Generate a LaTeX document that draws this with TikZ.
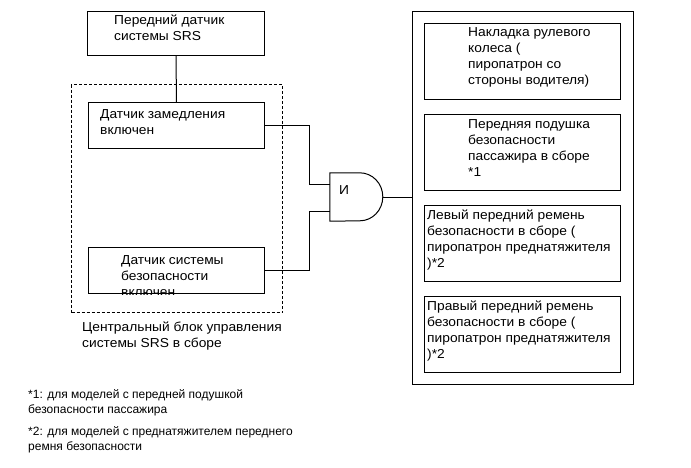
\documentclass[tikz,border=0pt]{standalone}
\usepackage{fontspec}
\setmainfont{Liberation Sans}
\newfontfamily\boxfont[FakeStretch=1.06]{Liberation Sans}
\usetikzlibrary{positioning}

\begin{document}
\begin{tikzpicture}[
    x=1pt, y=-1pt,
    box/.style={rectangle, draw, line width=1pt, anchor=north west, inner sep=0pt},
    card/.style={box, minimum width=196pt, minimum height=76pt},
    ecubox/.style={rectangle, draw, line width=1pt, dash pattern=on 3pt off 2pt, anchor=north west, inner sep=0pt},
    txt/.style={anchor=north west, align=left, inner sep=0pt, font=\boxfont\fontsize{13}{16}\selectfont},
    note/.style={txt, font=\fontsize{12}{15}\selectfont},
    wire/.style={line width=1pt},
]
\useasboundingbox (0,0) rectangle (691,467);

% Left side
\node[box, minimum width=177pt, minimum height=44pt] (front) at (87,11) {};
\node[txt] (frontlbl) at ([xshift=27pt,yshift=-1.8pt]front.north west) {\strut Передний датчик\\системы SRS};
\node[ecubox, minimum width=211pt, minimum height=228pt] (ecu) at (71,84) {};
\node[txt] (eculbl) at ([xshift=11pt,yshift=-6.8pt]ecu.south west) {\strut Центральный блок управления\\системы SRS в сборе};
\node[box, minimum width=176pt, minimum height=46pt] (decel) at (88,102) {};
\node[txt] (decellbl) at ([xshift=12pt,yshift=-4.8pt]decel.north west) {\strut Датчик замедления\\включен};
\node[box, minimum width=176pt, minimum height=46pt] (safety) at (88,247) {};
\begin{scope}
\clip (safety.north west) rectangle (safety.south east);
\node[txt] (safetylbl) at ([xshift=33pt,yshift=-5.8pt]safety.north west) {\strut Датчик системы\\безопасности\\включен};
\end{scope}

% Gate
\node[minimum width=53pt, minimum height=48pt, inner sep=0pt] (gate) at (356.5,197) {};
\draw[wire] (gate.north west) -- ++(30pt,0pt) arc[start angle=90, end angle=-90, x radius=23pt, y radius=24pt] -- (gate.south west) -- cycle;
\node[txt, anchor=west] (gatelbl) at ([xshift=9pt,yshift=7pt]gate.west) {И};
\coordinate (in1) at ([yshift=13pt]gate.west);
\coordinate (in2) at ([yshift=-14pt]gate.west);

% Right side
\node[box, minimum width=221pt, minimum height=373pt] (outer) at (412,11) {};
\node[card] (wheel) at (424,23) {};
\node[card, below=14pt of wheel] (pass) {};
\node[card, below=14pt of pass] (lbelt) {};
\node[card, below=14pt of lbelt] (rbelt) {};
\node[txt] (wheellbl) at ([xshift=44pt,yshift=-1.8pt]wheel.north west) {\strut Накладка рулевого\\колеса (\\пиропатрон со\\стороны водителя)};
\node[txt] (passlbl) at ([xshift=44pt,yshift=-2.8pt]pass.north west) {\strut Передняя подушка\\безопасности\\пассажира в сборе\\*1};
\node[txt] (lbeltlbl) at ([xshift=3pt,yshift=-2.8pt]lbelt.north west) {\strut Левый передний ремень\\безопасности в сборе (\\пиропатрон преднатяжителя\\)*2};
\node[txt] (rbeltlbl) at ([xshift=3pt,yshift=-2.8pt]rbelt.north west) {\strut Правый передний ремень\\безопасности в сборе (\\пиропатрон преднатяжителя\\)*2};

% Notes
\node[note] (note1) at (28,388) {\strut *1: для моделей с передней подушкой\\безопасности пассажира};
\node[note] (note2) at (28,425) {\strut *2: для моделей с преднатяжителем переднего\\ремня безопасности};

% Wires
\draw[wire] (front) -- (decel);
\draw[wire] (decel.east) -- ++(44pt,0pt) |- (in1);
\draw[wire] (safety.east) -- ++(44pt,0pt) |- (in2);
\draw[wire] (gate.east) -- (gate.east -| outer.west);

\end{tikzpicture}
\end{document}
